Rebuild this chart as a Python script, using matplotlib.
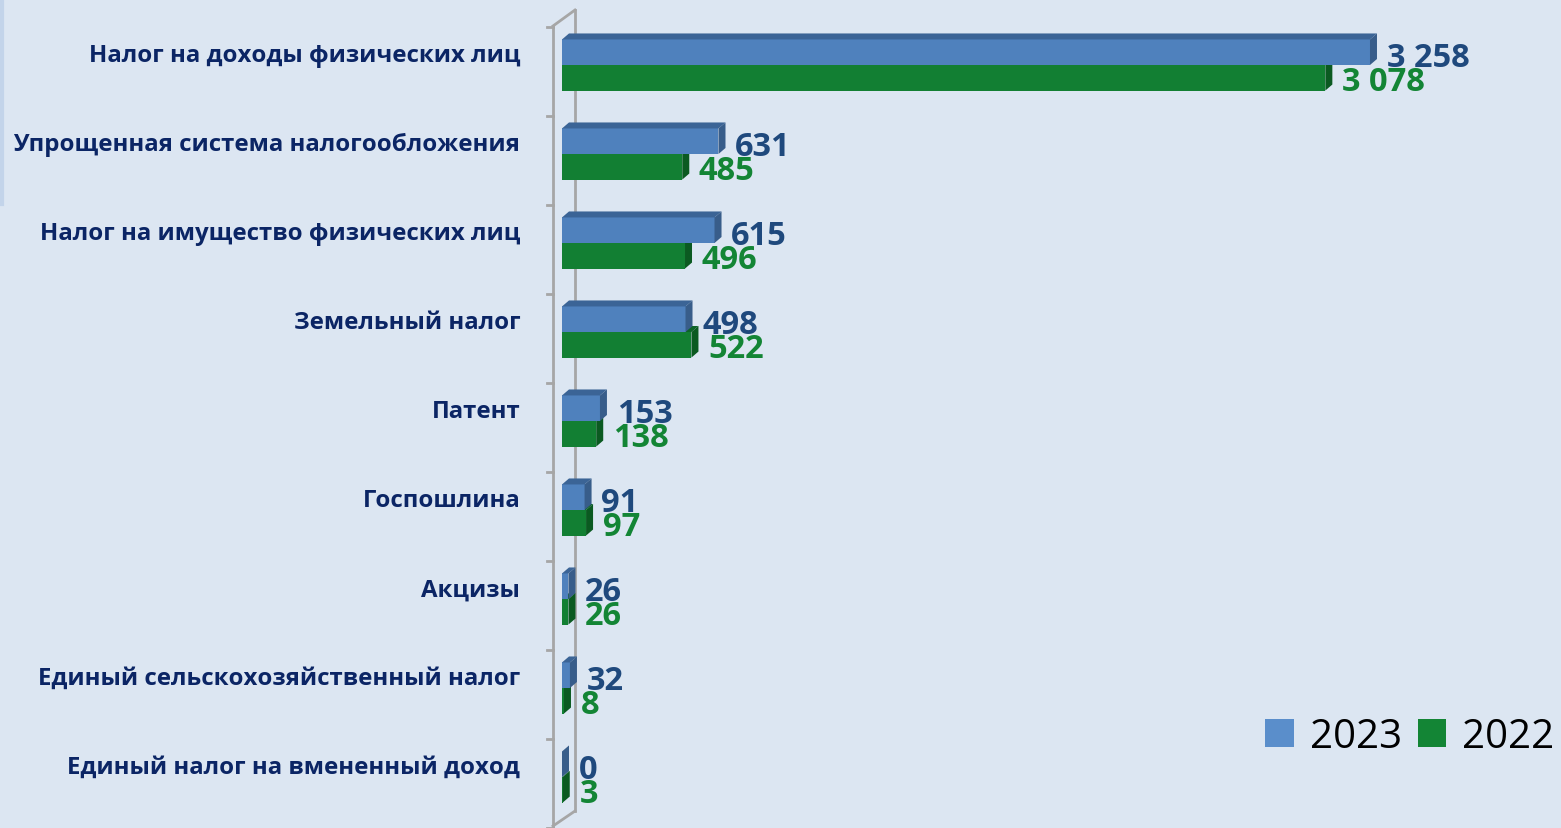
import matplotlib.pyplot as plt
from matplotlib.patches import Polygon, Patch
from matplotlib.lines import Line2D

# Данные (млн руб.)
categories = [
    "Налог на доходы физических лиц",
    "Упрощенная система налогообложения",
    "Налог на имущество физических лиц",
    "Земельный налог",
    "Патент",
    "Госпошлина",
    "Акцизы",
    "Единый сельскохозяйственный налог",
    "Единый налог на вмененный доход",
]
values_2023 = [3258, 631, 615, 498, 153, 91, 26, 32, 0]
values_2022 = [3078, 485, 496, 522, 138, 97, 26, 8, 3]
series_names = ["2023", "2022"]

bg = "#dce6f2"
blue_front, blue_top, blue_side = "#4f81bd", "#3b6496", "#385d8a"
green_front, green_top, green_side = "#127f33", "#0d6428", "#0b5a21"
blue_text, green_text, cat_text = "#1f497d", "#138535", "#0b2565"

plt.rcParams['font.family'] = ['Open Sans', 'DejaVu Sans']

W, H = 1561, 829
fig = plt.figure(figsize=(W / 100, H / 100), dpi=100, facecolor=bg)
x0_px = 562
ax = fig.add_axes([x0_px / W, 0, 1 - x0_px / W, 1])
ax.set_facecolor(bg)

px_per_unit = 0.248
row_px = 89.0
ax.set_xlim(0, (W - x0_px) / px_per_unit)
ax.set_ylim((H - 66) / row_px, -66 / row_px)

bh = 0.287
dx = 7 / px_per_unit
dy = 6 / row_px


def bar3d(yc, w, front, top, side):
    t, b = yc - bh / 2, yc + bh / 2
    ax.add_patch(Polygon([(0, b), (0, t), (w, t), (w, b)], closed=True,
                         facecolor=front, edgecolor='none', zorder=3))
    ax.add_patch(Polygon([(0, t), (dx, t - dy), (w + dx, t - dy), (w, t)], closed=True,
                         facecolor=top, edgecolor='none', zorder=3))
    ax.add_patch(Polygon([(w, t), (w + dx, t - dy), (w + dx, b - dy), (w, b)], closed=True,
                         facecolor=side, edgecolor='none', zorder=3))


def fmt(v):
    return f"{v:,}".replace(",", " ")


for i, (v23, v22) in enumerate(zip(values_2023, values_2022)):
    yb, yg = i - bh / 2, i + bh / 2
    bar3d(yg, v22, green_front, green_top, green_side)
    bar3d(yb, v23, blue_front, blue_top, blue_side)
    ax.annotate(fmt(v23), (v23, yb), xytext=(12, -4), textcoords='offset points',
                ha='left', va='center', fontsize=23.5, fontweight='bold', color=blue_text, zorder=5)
    ax.annotate(fmt(v22), (v22, yg), xytext=(12, -3), textcoords='offset points',
                ha='left', va='center', fontsize=23.5, fontweight='bold', color=green_text, zorder=5)
    ax.annotate(categories[i], (0, i), xycoords=('axes fraction', 'data'),
                xytext=(-30, 7), textcoords='offset points', ha='right', va='center',
                fontsize=17.3, fontweight='bold', color=cat_text)

# стенка оси категорий
wl = (553 - x0_px) / px_per_unit
wr = (575 - x0_px) / px_per_unit
gray = "#a6a6a6"
y_lt, y_lb = (27 - 66) / row_px, (827 - 66) / row_px
y_rt, y_rb = (11 - 66) / row_px, (812 - 66) / row_px
for xs, ys in [([wl, wl], [y_lt, y_lb]), ([wr, wr], [y_rt, y_rb]),
               ([wl, wr], [y_lt, y_rt]), ([wl, wr], [y_lb, y_rb])]:
    ax.add_line(Line2D(xs, ys, color=gray, lw=2, clip_on=False, zorder=1))
for k in range(len(categories) + 1):
    yt = (27.5 - 66) / row_px + k
    ax.add_line(Line2D([(547 - x0_px) / px_per_unit, wl], [yt, yt], color=gray, lw=2,
                       clip_on=False, zorder=1))

ax.set_yticks([])
ax.set_xticks([])
for s in ax.spines.values():
    s.set_visible(False)

# след рамки слайда слева вверху
fig.add_artist(Line2D([2 / W, 2 / W], [1, 1 - 205 / H], color="#c3d4ea", lw=3))

handles = [Patch(facecolor="#5a8ecb", edgecolor='none'), Patch(facecolor="#138535", edgecolor='none')]
fig.legend(handles, series_names, loc='center', bbox_to_anchor=(1410 / W, 1 - 738 / H),
           ncol=2, frameon=False, fontsize=29, handlelength=0.7, handleheight=0.7,
           handletextpad=0.4, columnspacing=0.4, borderpad=0)

fig.savefig("out.png", dpi=100, facecolor=bg)
